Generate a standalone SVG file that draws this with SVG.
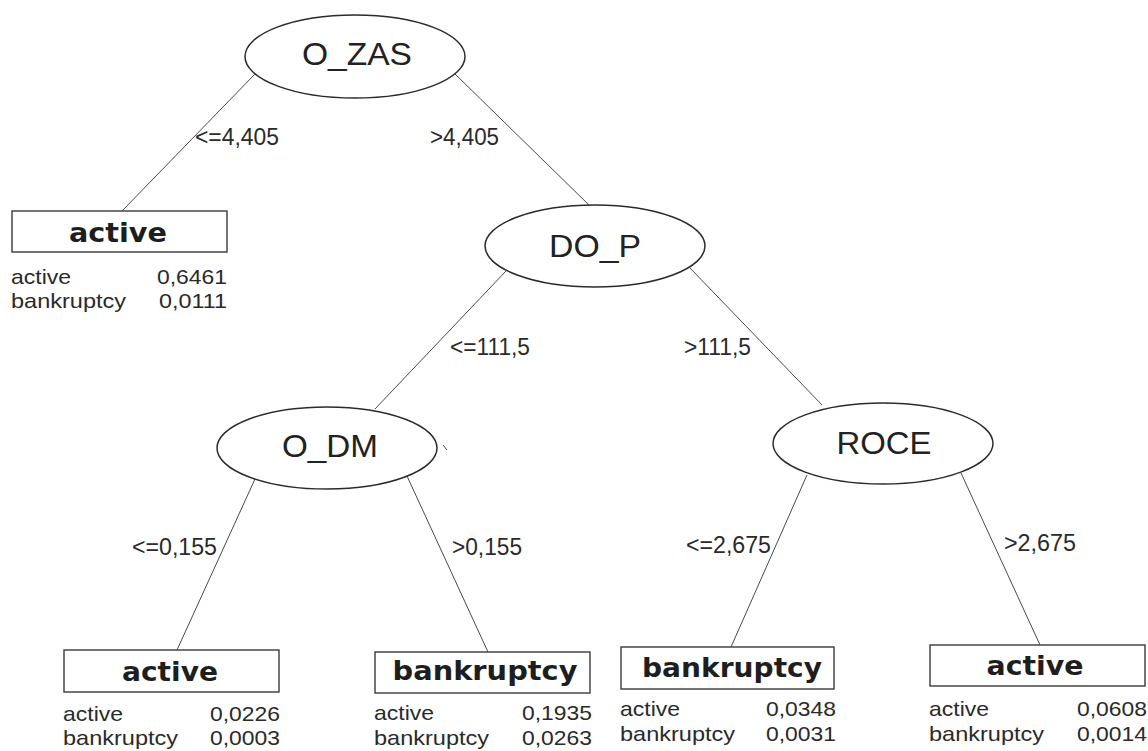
<svg xmlns="http://www.w3.org/2000/svg" width="1148" height="751" viewBox="0 0 1148 751">
  <style>
    .split ellipse { fill: #ffffff; stroke: #2b2b2b; stroke-width: 1.5; }
    .split text { font-family: "Liberation Sans", Arial, sans-serif; font-size: 32px; fill: #222222; text-anchor: middle; }
    .leaf rect { fill: #ffffff; stroke: #3a3a3a; stroke-width: 1.4; }
    .leaf .cls { font-family: "DejaVu Sans", "Liberation Sans", sans-serif; font-weight: bold; font-size: 27px; fill: #1e1e1e; text-anchor: middle; }
    .leaf .row { font-family: "Liberation Sans", Arial, sans-serif; font-size: 21px; fill: #2a2a2a; }
    .leaf .num { text-anchor: end; }
    #connectors line, #connectors path { stroke: #4a4a4a; stroke-width: 1; fill: none; }
    #connectors text { font-family: "Liberation Sans", Arial, sans-serif; font-size: 24px; fill: #2a2a2a; }
  </style>
  <rect width="1148" height="751" fill="#ffffff"/>

  <!-- branches and their thresholds -->
  <g id="connectors">
    <line x1="255" y1="74" x2="122" y2="211"/>
    <line x1="455" y1="74" x2="590" y2="206"/>
    <line x1="506" y1="271" x2="375" y2="409"/>
    <line x1="690" y1="268" x2="822" y2="405"/>
    <line x1="255" y1="479" x2="177" y2="650"/>
    <line x1="407" y1="476" x2="488" y2="652"/>
    <line x1="807" y1="475" x2="731" y2="647"/>
    <line x1="961" y1="473" x2="1040" y2="645"/>
    <path d="M443 445 L447 450"/>
    <text x="195" y="145" textLength="84" lengthAdjust="spacingAndGlyphs">&lt;=4,405</text>
    <text x="430" y="145" textLength="69" lengthAdjust="spacingAndGlyphs">&gt;4,405</text>
    <text x="450" y="355" textLength="80" lengthAdjust="spacingAndGlyphs">&lt;=111,5</text>
    <text x="684" y="355" textLength="67" lengthAdjust="spacingAndGlyphs">&gt;111,5</text>
    <text x="132" y="555" textLength="85" lengthAdjust="spacingAndGlyphs">&lt;=0,155</text>
    <text x="452" y="555" textLength="70" lengthAdjust="spacingAndGlyphs">&gt;0,155</text>
    <text x="686" y="553" textLength="85" lengthAdjust="spacingAndGlyphs">&lt;=2,675</text>
    <text x="1004" y="551" textLength="72" lengthAdjust="spacingAndGlyphs">&gt;2,675</text>
  </g>

  <!-- split nodes -->
  <g id="node-o-zas" class="split">
    <ellipse cx="355" cy="56.5" rx="110" ry="41.5"/>
    <text x="357" y="65" textLength="110" lengthAdjust="spacingAndGlyphs">O_ZAS</text>
  </g>
  <g id="node-do-p" class="split">
    <ellipse cx="595" cy="246" rx="110" ry="41"/>
    <text x="595" y="257" textLength="92" lengthAdjust="spacingAndGlyphs">DO_P</text>
  </g>
  <g id="node-o-dm" class="split">
    <ellipse cx="327" cy="448" rx="110" ry="41"/>
    <text x="330" y="457" textLength="96" lengthAdjust="spacingAndGlyphs">O_DM</text>
  </g>
  <g id="node-roce" class="split">
    <ellipse cx="883" cy="443.5" rx="110" ry="40.5"/>
    <text x="884" y="454" textLength="95" lengthAdjust="spacingAndGlyphs">ROCE</text>
  </g>

  <!-- leaves -->
  <g id="leaf-1" class="leaf">
    <rect x="12" y="211" width="215" height="41"/>
    <text class="cls" x="118" y="242" textLength="98" lengthAdjust="spacingAndGlyphs">active</text>
    <text class="row" x="11" y="284" textLength="60" lengthAdjust="spacingAndGlyphs">active</text>
    <text class="row num" x="227" y="284" textLength="70" lengthAdjust="spacingAndGlyphs">0,6461</text>
    <text class="row" x="11" y="308" textLength="115" lengthAdjust="spacingAndGlyphs">bankruptcy</text>
    <text class="row num" x="227" y="308" textLength="68" lengthAdjust="spacingAndGlyphs">0,0111</text>
  </g>
  <g id="leaf-2" class="leaf">
    <rect x="64" y="650" width="215" height="42"/>
    <text class="cls" x="170" y="681" textLength="96" lengthAdjust="spacingAndGlyphs">active</text>
    <text class="row" x="63" y="721" textLength="60" lengthAdjust="spacingAndGlyphs">active</text>
    <text class="row num" x="280" y="721" textLength="70" lengthAdjust="spacingAndGlyphs">0,0226</text>
    <text class="row" x="63" y="745" textLength="115" lengthAdjust="spacingAndGlyphs">bankruptcy</text>
    <text class="row num" x="280" y="745" textLength="70" lengthAdjust="spacingAndGlyphs">0,0003</text>
  </g>
  <g id="leaf-3" class="leaf">
    <rect x="375" y="652" width="215" height="41"/>
    <text class="cls" x="485" y="680" textLength="185" lengthAdjust="spacingAndGlyphs">bankruptcy</text>
    <text class="row" x="374" y="720" textLength="60" lengthAdjust="spacingAndGlyphs">active</text>
    <text class="row num" x="592" y="720" textLength="70" lengthAdjust="spacingAndGlyphs">0,1935</text>
    <text class="row" x="374" y="745" textLength="115" lengthAdjust="spacingAndGlyphs">bankruptcy</text>
    <text class="row num" x="592" y="745" textLength="70" lengthAdjust="spacingAndGlyphs">0,0263</text>
  </g>
  <g id="leaf-4" class="leaf">
    <rect x="621" y="647" width="213" height="42"/>
    <text class="cls" x="732" y="677" textLength="180" lengthAdjust="spacingAndGlyphs">bankruptcy</text>
    <text class="row" x="620" y="716" textLength="60" lengthAdjust="spacingAndGlyphs">active</text>
    <text class="row num" x="836" y="716" textLength="70" lengthAdjust="spacingAndGlyphs">0,0348</text>
    <text class="row" x="620" y="741" textLength="115" lengthAdjust="spacingAndGlyphs">bankruptcy</text>
    <text class="row num" x="836" y="741" textLength="70" lengthAdjust="spacingAndGlyphs">0,0031</text>
  </g>
  <g id="leaf-5" class="leaf">
    <rect x="930" y="645" width="215" height="41"/>
    <text class="cls" x="1035" y="675" textLength="97" lengthAdjust="spacingAndGlyphs">active</text>
    <text class="row" x="929" y="716" textLength="60" lengthAdjust="spacingAndGlyphs">active</text>
    <text class="row num" x="1147" y="716" textLength="70" lengthAdjust="spacingAndGlyphs">0,0608</text>
    <text class="row" x="929" y="741" textLength="115" lengthAdjust="spacingAndGlyphs">bankruptcy</text>
    <text class="row num" x="1147" y="741" textLength="70" lengthAdjust="spacingAndGlyphs">0,0014</text>
  </g>
</svg>
